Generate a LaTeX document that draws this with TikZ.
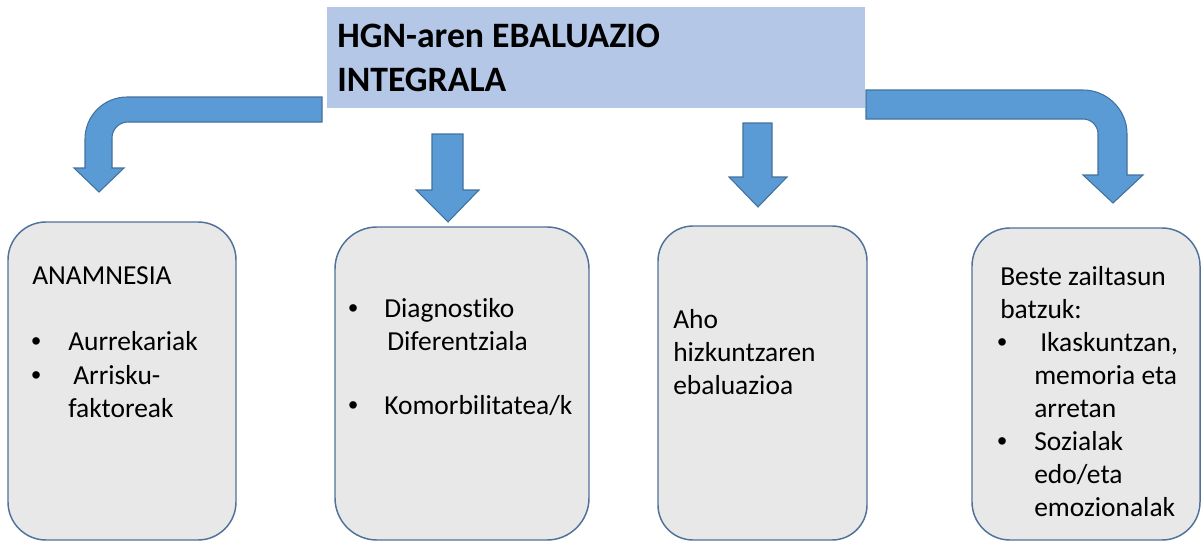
\documentclass[tikz,border=0pt]{standalone}
\usepackage{fontspec}
\setmainfont{Carlito}[Ligatures={NoCommon}]
\newfontfamily\bulfont{Liberation Sans}
\definecolor{arrowfill}{HTML}{5B9BD5}
\definecolor{arrowline}{HTML}{41719C}
\definecolor{titlefill}{HTML}{B4C7E7}
\definecolor{boxfill}{HTML}{E8E8E8}
\definecolor{boxline}{HTML}{50729A}
\begin{document}
\begin{tikzpicture}[x=0.75pt,y=-0.75pt,
  card/.style={draw=boxline, fill=boxfill, line width=1.1pt, inner sep=0pt},
  txt/.style={anchor=base west, inner sep=0pt, font=\fontsize{20.6}{24.75}\selectfont},
  bul/.style={anchor=base west, inner sep=0pt, font=\bulfont\fontsize{20.6}{24.75}\selectfont},
  ttl/.style={anchor=base west, inner sep=0pt, font=\fontsize{26.8}{33}\selectfont\bfseries},
  blockarrow/.style={fill=arrowfill, draw=arrowline, line width=0.8pt, line join=miter}]
\useasboundingbox (0,0) rectangle (1202,542);

% title
\node[fill=titlefill, inner sep=0pt, minimum width=403.5pt, minimum height=75.75pt] (title) at (596,57.5) {};
\node[ttl] (ttl1) at (337,48) {HGN-aren EBALUAZIO};
\node[ttl] (ttl2) at (337,92) {INTEGRALA};

% boxes
\node[card, rounded corners=28.5pt, minimum width=171pt, minimum height=238.5pt] (b1) at (122,381) {};
\node[card, rounded corners=31.5pt, minimum width=190.5pt, minimum height=234.75pt] (b2) at (462,383.5) {};
\node[card, rounded corners=26.25pt, minimum width=156.75pt, minimum height=235.5pt] (b3) at (762.5,383) {};
\node[card, rounded corners=28.5pt, minimum width=171pt, minimum height=234pt] (b4) at (1086,384) {};

% arrows
\draw[blockarrow] (322,97) -- (127,97) .. controls (103.8,97) and (85,115.8) .. (85,139)
  -- (85,168) -- (74,168) -- (99,192) -- (124,168) -- (112,168) -- (112,138)
  .. controls (112,129.2) and (119.2,122) .. (128,122) -- (322,122) -- cycle;
\draw[blockarrow] (866,90) -- (1083,90) .. controls (1107.3,90) and (1127,109.7) .. (1127,134)
  -- (1127,175) -- (1143,175) -- (1113,203) -- (1083,175) -- (1098,175) -- (1098,134)
  .. controls (1098,125.7) and (1091.3,119) .. (1083,119) -- (866,119) -- cycle;
\draw[blockarrow] (432,134) -- (463,134) -- (463,190) -- (479,190) -- (448,222) -- (416,190) -- (432,190) -- cycle;
\draw[blockarrow] (743,123) -- (772,123) -- (772,177) -- (787,177) -- (758,207) -- (729,177) -- (743,177) -- cycle;

% box 1 text
\node[txt] (t1a) at (32,284) {ANAMNESIA};
\node[bul] (t1b0) at (31,350) {•};
\node[txt] (t1b) at (68,350) {Aurrekariak};
\node[bul] (t1c0) at (31,384) {•};
\node[txt] (t1c) at (73,384) {Arrisku-};
\node[txt] (t1d) at (68,417) {faktoreak};

% box 2 text
\node[bul] (t2a0) at (348,317) {•};
\node[txt] (t2a) at (384,317) {Diagnostiko};
\node[txt] (t2b) at (387,350) {Diferentziala};
\node[bul] (t2c0) at (348,414) {•};
\node[txt] (t2c) at (384,414) {Komorbilitatea/k};

% box 3 text
\node[txt] (t3a) at (673,328) {Aho};
\node[txt] (t3b) at (673,361) {hizkuntzaren};
\node[txt] (t3c) at (673,394) {ebaluazioa};

% box 4 text
\node[txt] (t4a) at (1000,285) {Beste zailtasun};
\node[txt] (t4b) at (1000,318) {batzuk:};
\node[bul] (t4c0) at (997,351) {•};
\node[txt] (t4c) at (1040,351) {Ikaskuntzan,};
\node[txt] (t4d) at (1034,384) {memoria eta};
\node[txt] (t4e) at (1034,417) {arretan};
\node[bul] (t4f0) at (997,450) {•};
\node[txt] (t4f) at (1034,450) {Sozialak};
\node[txt] (t4g) at (1034,483) {edo/eta};
\node[txt] (t4h) at (1034,516) {emozionalak};
\end{tikzpicture}
\end{document}
